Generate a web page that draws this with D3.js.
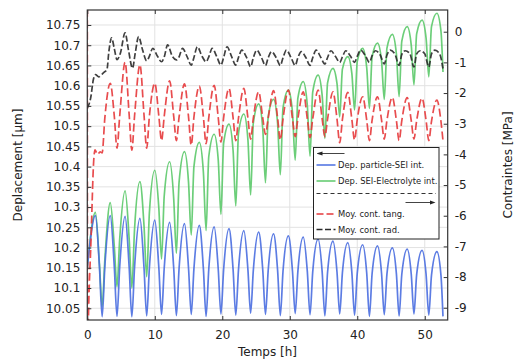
<!DOCTYPE html>
<html><head><meta charset="utf-8">
<script src="https://cdn.jsdelivr.net/npm/d3@7"></script>
<style>
html,body{margin:0;padding:0;background:#fff;}
svg{display:block;font-family:"DejaVu Sans",sans-serif;}
</style></head>
<body><svg id="chart" width="516" height="362"></svg>
<script>
// ---------- data ----------
const xTicks = [0, 10, 20, 30, 40, 50];
const leftTicks = [10.05, 10.1, 10.15, 10.2, 10.25, 10.3, 10.35, 10.4, 10.45, 10.5, 10.55, 10.6, 10.65, 10.7, 10.75];
const rightTicks = [-9, -8, -7, -6, -5, -4, -3, -2, -1, 0];

// knot times shared by both displacement series [h]
const dispTimes = [0,
 1.2,1.8,2.2,2.6, 3.4,4.0,4.4,4.8, 5.6,6.2,6.6,7.0, 7.8,8.4,8.8,9.2,
 10.0,10.6,11.0,11.4, 12.2,12.8,13.2,13.6, 14.4,15.0,15.4,15.8, 16.6,17.2,17.6,18.0,
 18.8,19.4,19.8,20.2, 21.0,21.6,22.0,22.4, 23.2,23.8,24.2,24.6, 25.4,26.0,26.4,26.8,
 27.6,28.2,28.6,29.0, 29.8,30.4,30.8,31.2, 32.0,32.6,33.0,33.4, 34.2,34.8,35.2,35.6,
 36.4,37.0,37.4,37.8, 38.6,39.2,39.6,40.0, 40.8,41.4,41.8,42.2, 43.0,43.6,44.0,44.4,
 45.2,45.8,46.2,46.6, 47.4,48.0,48.4,48.8, 49.6,50.2,50.6,51.0, 51.8,52.4,52.7];

// Dep. particle-SEI int. [µm]
const blueVals = [10.150,
 10.279,10.152,10.029,10.153, 10.279,10.153,10.030,10.152, 10.277,10.152,10.029,10.151, 10.272,10.151,10.031,10.150,
 10.268,10.150,10.035,10.150, 10.262,10.150,10.032,10.149, 10.259,10.149,10.035,10.148, 10.255,10.148,10.030,10.147,
 10.251,10.147,10.036,10.146, 10.247,10.146,10.033,10.145, 10.242,10.145,10.038,10.144, 10.238,10.144,10.035,10.143,
 10.234,10.143,10.032,10.142, 10.229,10.142,10.037,10.141, 10.226,10.141,10.034,10.140, 10.221,10.140,10.031,10.139,
 10.216,10.139,10.036,10.138, 10.212,10.138,10.033,10.137, 10.207,10.137,10.030,10.136, 10.204,10.136,10.034,10.135,
 10.199,10.135,10.031,10.134, 10.196,10.134,10.036,10.133, 10.193,10.133,10.033,10.132, 10.190,10.132,10.030];

// Dep. SEI-Electrolyte int. [µm]
const greenVals = [10.150,
 10.287,10.159,10.054,10.170, 10.311,10.203,10.103,10.221, 10.340,10.222,10.100,10.245, 10.363,10.255,10.128,10.286,
 10.391,10.297,10.172,10.328, 10.412,10.322,10.186,10.362, 10.437,10.361,10.231,10.400, 10.460,10.386,10.242,10.425,
 10.480,10.417,10.282,10.458, 10.505,10.440,10.303,10.482, 10.530,10.466,10.330,10.508, 10.555,10.493,10.360,10.523,
 10.566,10.506,10.380,10.545, 10.589,10.534,10.416,10.569, 10.610,10.551,10.426,10.584, 10.626,10.576,10.470,10.607,
 10.643,10.605,10.523,10.641, 10.672,10.630,10.540,10.660, 10.692,10.645,10.544,10.671, 10.705,10.661,10.566,10.693,
 10.727,10.678,10.573,10.710, 10.746,10.700,10.602,10.728, 10.762,10.717,10.622,10.746, 10.779,10.735,10.634];

// Moy. cont. tang. [MPa]
const redTimes = [0,0.03,0.15,0.55,0.95,1.15,1.5,1.9,2.2,2.6,
 3.4,4.0,4.4,4.8, 5.6,6.2,6.6,7.0, 7.8,8.4,8.8,9.2,
 10.0,10.6,11.0,11.4, 12.2,12.8,13.2,13.6, 14.4,15.0,15.4,15.8, 16.6,17.2,17.6,18.0,
 18.8,19.4,19.8,20.2, 21.0,21.6,22.0,22.4, 23.2,23.8,24.2,24.6, 25.4,26.0,26.4,26.8,
 27.6,28.2,28.6,29.0, 29.8,30.4,30.8,31.2, 32.0,32.6,33.0,33.4, 34.2,34.8,35.2,35.6,
 36.4,37.0,37.4,37.8, 38.6,39.2,39.6,40.0, 40.8,41.4,41.8,42.2, 43.0,43.6,44.0,44.4,
 45.2,45.8,46.2,46.6, 47.4,48.0,48.4,48.8, 49.6,50.2,50.6,51.0, 51.8,52.4,52.7];
const redVals = [1.5,-11,-9.5,-6.8,-4.2,-3.85,-4.0,-3.92,-3.95,-2.81,
 -1.68,-2.75,-3.80,-2.75, -1.00,-2.70,-3.86,-2.75, -1.08,-2.70,-3.80,-2.75,
 -1.68,-2.75,-3.55,-2.75, -1.60,-2.75,-3.55,-2.78, -1.70,-2.78,-3.70,-2.78, -1.77,-2.78,-3.65,-2.80,
 -1.75,-2.80,-3.60,-2.80, -1.85,-2.80,-3.55,-2.82, -1.85,-2.82,-3.50,-2.82, -1.96,-2.82,-3.35,-2.82,
 -1.92,-2.82,-3.53,-2.84, -1.90,-2.84,-3.42,-2.84, -1.96,-2.84,-3.45,-2.84, -1.90,-2.84,-3.42,-2.85,
 -1.96,-2.85,-3.62,-2.86, -1.98,-2.86,-3.53,-2.86, -2.12,-2.88,-3.55,-2.88, -2.12,-2.88,-3.50,-2.88,
 -2.14,-2.90,-3.55,-2.90, -2.15,-2.90,-3.50,-2.90, -2.17,-2.90,-3.55,-2.92, -2.23,-2.92,-3.55];

// Moy. cont. rad. [MPa]
const blackTimes = [0,0.5,0.9,1.2,1.7,2.2,2.6,2.9,3.2,3.6,4.0,4.4,4.9,5.6,6.1,6.7,7.1,7.6,8.2,8.8,9.2,
 9.7,10.4,11.0,11.4, 11.9,12.6,13.2,13.6, 14.1,14.8,15.4,15.8, 16.3,17.0,17.6,18.0,
 18.5,19.2,19.8,20.2, 20.7,21.4,22.0,22.4, 22.9,23.6,24.2,24.6, 25.1,25.8,26.4,26.8,
 27.3,28.0,28.6,29.0, 29.5,30.2,30.8,31.2, 31.7,32.4,33.0,33.4, 33.9,34.6,35.2,35.6,
 36.1,36.8,37.4,37.8, 38.3,39.0,39.6,40.0, 40.5,41.2,41.8,42.2, 42.7,43.4,44.0,44.4,
 44.9,45.6,46.2,46.6, 47.1,47.8,48.4,48.8, 49.3,50.0,50.6,51.0, 51.5,52.2,52.7];
const blackVals = [-2.49,-2.16,-1.56,-1.40,-1.47,-1.38,-1.30,-1.25,-0.64,-0.20,-0.55,-0.91,-0.70,-0.04,-0.60,-1.19,-0.70,-0.16,-0.60,-0.95,-0.80,
 -0.54,-0.80,-0.98,-0.82, -0.43,-0.80,-0.92,-0.82, -0.54,-0.82,-1.09,-0.84, -0.49,-0.80,-0.98,-0.82,
 -0.54,-0.82,-1.09,-0.84, -0.49,-0.82,-1.09,-0.84, -0.60,-0.84,-1.14,-0.85, -0.60,-0.84,-1.10,-0.85,
 -0.65,-0.85,-1.10,-0.85, -0.60,-0.85,-1.10,-0.85, -0.65,-0.85,-1.10,-0.85, -0.60,-0.84,-1.05,-0.84,
 -0.62,-0.82,-1.00,-0.82, -0.62,-0.80,-1.00,-0.80, -0.60,-0.78,-1.00,-0.78, -0.62,-0.76,-1.05,-0.76,
 -0.60,-0.74,-1.10,-0.74, -0.62,-0.72,-1.15,-0.72, -0.62,-0.72,-1.15,-0.72, -0.60,-0.72,-1.20];

const legendLabels = ["Dep. particle-SEI int.", "Dep. SEI-Electrolyte int.", "Moy. cont. tang.", "Moy. cont. rad."];

// ---------- drawing ----------
const svg = d3.select("#chart");
const L = 87.3, R = 447.7, T = 10, B = 320;
const x = d3.scaleLinear().domain([0, 53.4]).range([L, R]);
const yL = d3.scaleLinear().domain([10.021, 10.787]).range([B, T]);
const yR = d3.scaleLinear().domain([-9.40, 0.708]).range([B, T]);

svg.append("defs").append("clipPath").attr("id", "clip")
  .append("rect").attr("x", L).attr("y", T).attr("width", R - L).attr("height", B - T);

// grid
const grid = svg.append("g").attr("stroke", "#e2e2e2").attr("stroke-width", 1);
grid.selectAll(".gx").data(xTicks).join("line")
  .attr("x1", d => x(d)).attr("x2", d => x(d)).attr("y1", T).attr("y2", B);
grid.selectAll(".gy").data(leftTicks).join("line")
  .attr("x1", L).attr("x2", R).attr("y1", d => yL(d)).attr("y2", d => yL(d));

// series
const plot = svg.append("g").attr("clip-path", "url(#clip)");
function series(times, vals, scale, color, dash) {
  const pts = times.map((t, i) => [t, vals[i]]);
  const line = d3.line().x(d => x(d[0])).y(d => scale(d[1])).curve(d3.curveMonotoneX);
  plot.append("path").datum(pts).attr("d", line)
    .attr("fill", "none").attr("stroke", color).attr("stroke-width", 1.7)
    .attr("stroke-linejoin", "round").attr("stroke-opacity", 0.9)
    .attr("stroke-dasharray", dash || null);
}
series(dispTimes, greenVals, yL, "#5cc96a");
series(dispTimes, blueVals, yL, "#4a6ee0");
series(redTimes, redVals, yR, "#e5383b", "8,3.5");
series(blackTimes, blackVals, yR, "#2b2b2b", "6,2.5");

// axes
const fontSize = 12;
const axL = d3.axisLeft(yL).tickValues(leftTicks).tickSize(-4).tickPadding(7).tickFormat(d => String(+d.toFixed(2)));
const axR = d3.axisRight(yR).tickValues(rightTicks).tickSize(-4).tickPadding(7).tickFormat(d => String(d));
const axB = d3.axisBottom(x).tickValues(xTicks).tickSize(-4).tickPadding(10).tickFormat(d => String(d));
const axT = d3.axisTop(x).tickValues(xTicks).tickSize(-4).tickFormat("");
function style(g) {
  g.selectAll("path").remove();
  g.selectAll("line").attr("stroke", "#333");
  g.selectAll("text").attr("font-size", fontSize).attr("fill", "#222").attr("font-family", "DejaVu Sans");
}
svg.append("g").attr("transform", `translate(${L},0)`).call(axL).call(style);
svg.append("g").attr("transform", `translate(${R},0)`).call(axR).call(style);
svg.append("g").attr("transform", `translate(0,${B})`).call(axB).call(style);
svg.append("g").attr("transform", `translate(0,${T})`).call(axT).call(style);
svg.append("rect").attr("x", L).attr("y", T).attr("width", R - L).attr("height", B - T)
  .attr("fill", "none").attr("stroke", "#333").attr("stroke-width", 1.2);

// axis titles
svg.append("text").attr("transform", `translate(22,${(T + B) / 2}) rotate(-90)`)
  .attr("text-anchor", "middle").attr("font-size", 12).attr("fill", "#222").text("Deplacement [µm]");
svg.append("text").attr("transform", `translate(512,${(T + B) / 2}) rotate(-90)`)
  .attr("text-anchor", "middle").attr("font-size", 12).attr("fill", "#222").text("Contraintes [MPa]");
svg.append("text").attr("x", (L + R) / 2).attr("y", 356)
  .attr("text-anchor", "middle").attr("font-size", 12).attr("fill", "#222").text("Temps [h]");

// legend
const lg = svg.append("g");
const lx = 313.5, ly = 147.5, lw = 125.5, lh = 91.5;
lg.append("rect").attr("x", lx).attr("y", ly).attr("width", lw).attr("height", lh)
  .attr("fill", "#fff").attr("stroke", "#222").attr("stroke-width", 1);
svg.append("defs").html(
  '<marker id="ah" viewBox="0 0 10 10" refX="5" refY="5" markerWidth="6" markerHeight="6" orient="auto-start-reverse"><path d="M0,1.5 L10,5 L0,8.5 z" fill="#222"/></marker>');
lg.append("line").attr("x1", lx + 31).attr("x2", lx + 6).attr("y1", ly + 6).attr("y2", ly + 6)
  .attr("stroke", "#444").attr("stroke-width", 1).attr("marker-end", "url(#ah)");
lg.append("line").attr("x1", lx + 92).attr("x2", lx + 119).attr("y1", ly + 55).attr("y2", ly + 55)
  .attr("stroke", "#444").attr("stroke-width", 1).attr("marker-end", "url(#ah)");
lg.append("line").attr("x1", lx + 3).attr("x2", lx + lw - 3).attr("y1", ly + 46).attr("y2", ly + 46)
  .attr("stroke", "#333").attr("stroke-width", 1).attr("stroke-dasharray", "4,3");
const rows = [
  {y: ly + 17.5, c: "#4a6ee0", d: null},
  {y: ly + 33.5, c: "#5cc96a", d: null},
  {y: ly + 66.5, c: "#e5383b", d: "7,3"},
  {y: ly + 82, c: "#2b2b2b", d: "6,2.5"}
];
rows.forEach((r, i) => {
  lg.append("line").attr("x1", lx + 3).attr("x2", lx + 22).attr("y1", r.y).attr("y2", r.y)
    .attr("stroke", r.c).attr("stroke-width", 1.5).attr("stroke-dasharray", r.d);
  lg.append("text").attr("x", lx + 24.5).attr("y", r.y + 3).attr("font-size", 8.4).attr("fill", "#222")
    .text(legendLabels[i]);
});
</script></body></html>
